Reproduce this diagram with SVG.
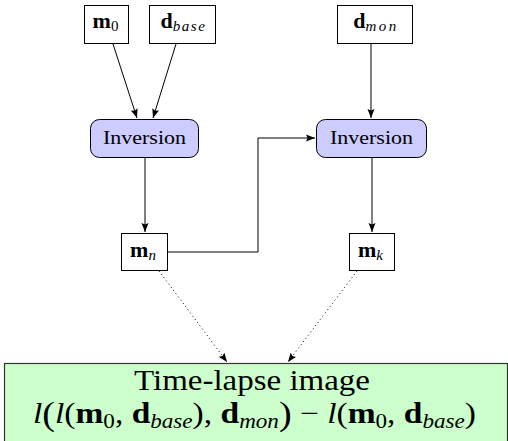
<svg xmlns="http://www.w3.org/2000/svg" width="508" height="441" viewBox="0 0 508 441">
<style>
.box{fill:#fff;stroke:#000;stroke-width:1}
.inv{fill:#ccccff;stroke:#000;stroke-width:1}
.res{fill:#ccffcc;stroke:#333;stroke-width:1.2}
.c{fill:none;stroke:#000;stroke-width:1}
.dot{fill:none;stroke:#000;stroke-width:1;stroke-dasharray:1 3}
text{font-family:"Liberation Serif","Times New Roman",serif;fill:#000;text-anchor:middle}
.mb{font-weight:bold;font-size:22px}
.sub{font-size:15px;font-style:italic}
.sub0{font-size:15px}
.lb{font-size:19px}
</style>
<defs>
<marker id="ah" markerUnits="userSpaceOnUse" markerWidth="10" markerHeight="8" refX="9" refY="4" orient="auto">
<path d="M0,0.5 L9,4 L0,7.5 L1.5,4 z" fill="#000"/>
</marker>
</defs>
<g id="connectors">
<line class="c" x1="113" y1="44" x2="137" y2="118" marker-end="url(#ah)"/>
<line class="c" x1="176" y1="44" x2="153" y2="118" marker-end="url(#ah)"/>
<line class="c" x1="371" y1="43" x2="371" y2="118" marker-end="url(#ah)"/>
<line class="c" x1="145" y1="158" x2="145" y2="232" marker-end="url(#ah)"/>
<line class="c" x1="372" y1="158" x2="372" y2="232" marker-end="url(#ah)"/>
<polyline class="c" points="168,252 258,252 258,138 315,138" marker-end="url(#ah)"/>
<line class="dot" x1="159" y1="271" x2="227" y2="362" marker-end="url(#ah)"/>
<line class="dot" x1="357" y1="271" x2="288" y2="362" marker-end="url(#ah)"/>
</g>
<g id="m0">
<rect class="box" x="84.5" y="5.5" width="44" height="38"/>
<text x="105.5" y="28"><tspan class="mb">m</tspan><tspan class="sub0" dy="3">0</tspan></text>
</g>
<g id="dbase">
<rect class="box" x="149.5" y="5.5" width="66" height="38"/>
<text x="183.5" y="28"><tspan class="mb">d</tspan><tspan class="sub" dy="3" letter-spacing="1.6">base</tspan></text>
</g>
<g id="dmon">
<rect class="box" x="337.5" y="5.5" width="75" height="38"/>
<text x="376" y="28"><tspan class="mb">d</tspan><tspan class="sub" dy="3" letter-spacing="2.5">mon</tspan></text>
</g>
<g id="inv1">
<rect class="inv" x="90.5" y="119.5" width="108" height="38" rx="9"/>
<text class="lb" x="144.5" y="144" textLength="83" lengthAdjust="spacingAndGlyphs">Inversion</text>
</g>
<g id="inv2">
<rect class="inv" x="316.5" y="119.5" width="110" height="38" rx="9"/>
<text class="lb" x="371.5" y="144" textLength="83" lengthAdjust="spacingAndGlyphs">Inversion</text>
</g>
<g id="mn">
<rect class="box" x="121.5" y="233.5" width="46" height="37"/>
<text x="143.5" y="257"><tspan class="mb">m</tspan><tspan class="sub" dy="3" letter-spacing="1">n</tspan></text>
</g>
<g id="mk">
<rect class="box" x="349.5" y="233.5" width="45" height="37"/>
<text x="371" y="257"><tspan class="mb">m</tspan><tspan class="sub" dy="3" letter-spacing="1">k</tspan></text>
</g>
<g id="timelapse">
<rect class="res" x="4.5" y="363.5" width="503" height="80"/>
<text x="252" y="390" font-size="30" textLength="236" lengthAdjust="spacingAndGlyphs">Time-lapse image</text>
<text x="254.5" y="423" font-size="29" textLength="443" lengthAdjust="spacingAndGlyphs"><tspan font-style="italic">l</tspan><tspan font-size="33" dy="2">(</tspan><tspan font-style="italic" dy="-2">l</tspan>(<tspan font-weight="bold">m</tspan><tspan font-size="20" dy="5">0</tspan><tspan dy="-5">, </tspan><tspan font-weight="bold">d</tspan><tspan font-size="20" font-style="italic" dy="5">base</tspan><tspan dy="-5">), </tspan><tspan font-weight="bold">d</tspan><tspan font-size="20" font-style="italic" dy="5">mon</tspan><tspan font-size="33" dy="-3">)</tspan><tspan dy="-2"> − </tspan><tspan font-style="italic">l</tspan>(<tspan font-weight="bold">m</tspan><tspan font-size="20" dy="5">0</tspan><tspan dy="-5">, </tspan><tspan font-weight="bold">d</tspan><tspan font-size="20" font-style="italic" dy="5">base</tspan><tspan dy="-5">)</tspan></text>
</g>
</svg>
